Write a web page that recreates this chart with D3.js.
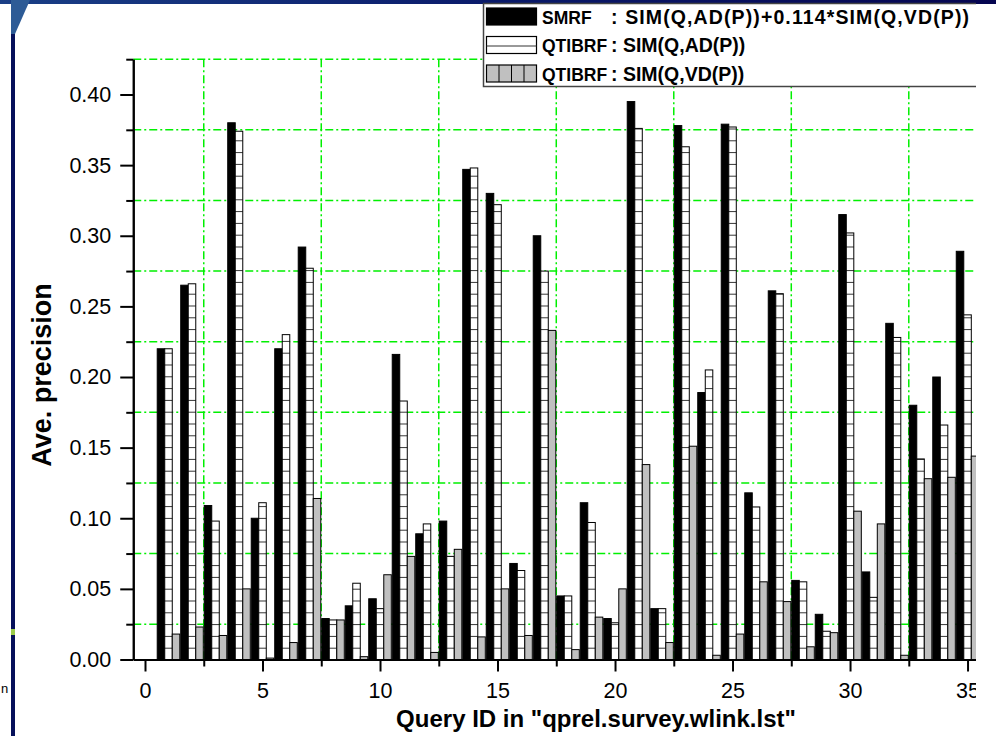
<!DOCTYPE html>
<html>
<head>
<meta charset="utf-8">
<script src="https://cdn.jsdelivr.net/npm/d3@7"></script>
<style>
  html, body { margin: 0; padding: 0; background: #fff; }
  svg { display: block; font-family: "Liberation Sans", Arial, Helvetica, sans-serif; }
</style>
</head>
<body>
<div id="chart"></div>
<script>
// Query IDs
var queries = [1, 2, 3, 4, 5, 6, 7, 8, 9, 10, 11, 12, 13, 14, 15, 16, 17, 18,
  19, 20, 21, 22, 23, 24, 25, 26, 27, 28, 29, 30, 31, 32, 33, 34, 35];

// SMRF : SIM(Q,AD(P))+0.114*SIM(Q,VD(P))
var smrf = [0.220, 0.265, 0.109, 0.380, 0.100, 0.220, 0.292, 0.029, 0.038, 0.043,
  0.216, 0.089, 0.098, 0.347, 0.330, 0.068, 0.300, 0.045, 0.111, 0.029,
  0.395, 0.036, 0.378, 0.189, 0.379, 0.118, 0.261, 0.056, 0.032, 0.315,
  0.062, 0.238, 0.180, 0.200, 0.289];
// QTIBRF : SIM(Q,AD(P))
var adp = [0.220, 0.266, 0.098, 0.374, 0.111, 0.230, 0.277, 0.028, 0.054, 0.036,
  0.183, 0.096, 0.073, 0.348, 0.322, 0.063, 0.275, 0.045, 0.097, 0.026,
  0.376, 0.036, 0.363, 0.205, 0.377, 0.108, 0.259, 0.055, 0.020, 0.302,
  0.044, 0.228, 0.142, 0.166, 0.244];
// QTIBRF : SIM(Q,VD(P))
var vdp = [0.018, 0.023, 0.017, 0.050, 0.001, 0.012, 0.114, 0.028, 0.002, 0.060,
  0.073, 0.005, 0.078, 0.016, 0.050, 0.017, 0.233, 0.007, 0.030, 0.050,
  0.138, 0.012, 0.151, 0.003, 0.018, 0.055, 0.041, 0.009, 0.019, 0.105,
  0.096, 0.003, 0.128, 0.129, 0.144];

var xTicks = [0, 5, 10, 15, 20, 25, 30, 35];
var xMinor = [2.5, 7.5, 12.5, 17.5, 22.5, 27.5, 32.5];
var yTicks = [0.00, 0.05, 0.10, 0.15, 0.20, 0.25, 0.30, 0.35, 0.40];
var yMinor = [0.025, 0.075, 0.125, 0.175, 0.225, 0.275, 0.325, 0.375, 0.425];

var series = [
  { name: "SMRF", rest: ": SIM(Q,AD(P))+0.114*SIM(Q,VD(P))", values: smrf, fill: "#000", offset: -1 },
  { name: "QTIBRF", rest: ": SIM(Q,AD(P))", values: adp, fill: "url(#hatchH)", offset: 0 },
  { name: "QTIBRF", rest: ": SIM(Q,VD(P))", values: vdp, fill: "#c0c0c0", offset: 1 }
];

var W = 996, H = 736;
var clipRight = 976;

var svg = d3.select("#chart").append("svg")
  .attr("width", W)
  .attr("height", H);

var defs = svg.append("defs");
// horizontal line hatch for the middle series
var ph = defs.append("pattern")
  .attr("id", "hatchH")
  .attr("patternUnits", "userSpaceOnUse")
  .attr("width", 10).attr("height", 11.8)
  .attr("y", 659.5);
ph.append("rect").attr("width", 10).attr("height", 11.8).attr("fill", "#fff");
ph.append("line").attr("x1", 0).attr("x2", 10).attr("y1", 0.5).attr("y2", 0.5)
  .attr("stroke", "#333").attr("stroke-width", 1);

var lg = defs.append("linearGradient").attr("id", "band");
lg.append("stop").attr("offset", "0%").attr("stop-color", "#1a3f86");
lg.append("stop").attr("offset", "50%").attr("stop-color", "#0a1a6a");
lg.append("stop").attr("offset", "100%").attr("stop-color", "#050550");

defs.append("clipPath").attr("id", "plotClip")
  .append("rect").attr("x", 0).attr("y", 0).attr("width", clipRight).attr("height", H);

// slide background bits
svg.append("rect").attr("x", 0).attr("y", 0).attr("width", W).attr("height", 4).attr("fill", "url(#band)");
svg.append("rect").attr("x", 11).attr("y", 0).attr("width", 4).attr("height", H).attr("fill", "#06105a");
svg.append("path").attr("d", "M11,0 L30,0 L15,34 L11,34 Z").attr("fill", "#2d5b96");
svg.append("rect").attr("x", 11).attr("y", 629).attr("width", 4).attr("height", 6).attr("fill", "#9ccc4a");
svg.append("text").attr("x", 1).attr("y", 693).attr("font-size", 13).attr("fill", "#000").text("n");

// scales
var x = d3.scaleLinear().domain([-0.5, 35.36]).range([133.25, clipRight]);
var y = d3.scaleLinear().domain([0, 0.425]).range([659.5, 59.2]);
var bw = 0.32;

var g = svg.append("g").attr("clip-path", "url(#plotClip)");

// grid (dash-dot green)
g.selectAll(".hgrid").data(yMinor).enter().append("line")
  .attr("x1", x(-0.5)).attr("x2", clipRight)
  .attr("y1", function(d) { return y(d); }).attr("y2", function(d) { return y(d); })
  .attr("stroke", "#00f000").attr("stroke-width", 1.5)
  .attr("stroke-dasharray", "8,3,2,3");
g.selectAll(".vgrid").data(xMinor).enter().append("line")
  .attr("x1", function(d) { return x(d); }).attr("x2", function(d) { return x(d); })
  .attr("y1", y(0.425)).attr("y2", y(0))
  .attr("stroke", "#00f000").attr("stroke-width", 1.5)
  .attr("stroke-dasharray", "8,3,2,3");

// bars
series.forEach(function(s) {
  g.selectAll(null).data(s.values).enter().append("rect")
    .attr("x", function(d, i) { return x(queries[i] + s.offset * bw - bw / 2); })
    .attr("width", x(bw) - x(0))
    .attr("y", function(d) { return y(d); })
    .attr("height", function(d) { return y(0) - y(d); })
    .attr("fill", s.fill)
    .attr("stroke", "#000")
    .attr("stroke-width", 1);
});

// axes
g.append("g").attr("transform", "translate(" + x(-0.5) + ",0)")
  .call(d3.axisLeft(y).tickValues(yTicks).tickSize(13).tickSizeOuter(0)
    .tickPadding(9).tickFormat(d3.format(".2f")));
g.append("g").attr("transform", "translate(" + x(-0.5) + ",0)")
  .call(d3.axisLeft(y).tickValues(yMinor).tickSize(7).tickSizeOuter(0).tickFormat(""));

g.append("g").attr("transform", "translate(0," + y(0) + ")")
  .call(d3.axisBottom(x).tickValues(xTicks).tickSize(12).tickSizeOuter(0).tickPadding(11));
g.append("g").attr("transform", "translate(0," + y(0) + ")")
  .call(d3.axisBottom(x).tickValues(xMinor).tickSize(7).tickSizeOuter(0).tickFormat(""));

g.selectAll(".domain").attr("stroke", "#000").attr("stroke-width", 2);
g.selectAll(".tick line").attr("stroke", "#000").attr("stroke-width", 2);
g.selectAll(".tick text").attr("font-size", 21.5).attr("fill", "#000")
  .attr("font-family", "'Liberation Sans', Arial, sans-serif");

// axis titles
svg.append("text")
  .attr("transform", "translate(51,375) rotate(-90)")
  .attr("text-anchor", "middle")
  .attr("font-size", 27).attr("font-weight", "bold")
  .text("Ave. precision");
svg.append("text")
  .attr("x", 596).attr("y", 727)
  .attr("text-anchor", "middle")
  .attr("font-size", 24).attr("font-weight", "bold")
  .text("Query ID in \"qprel.survey.wlink.lst\"");

// legend
var leg = g.append("g");
leg.append("rect").attr("x", 483.5).attr("y", 3.5).attr("width", 500).attr("height", 83)
  .attr("fill", "#fff").attr("stroke", "#444").attr("stroke-width", 1.5);
series.forEach(function(s, i) {
  var cy = 16.5 + i * 28.5;
  var sym = leg.append("g");
  sym.append("rect").attr("x", 486.5).attr("y", cy - 8.5).attr("width", 50).attr("height", 17)
    .attr("fill", i === 1 ? "#fff" : s.fill).attr("stroke", "#000").attr("stroke-width", 1.2);
  if (i === 1) {
    sym.append("line").attr("x1", 486.5).attr("x2", 536.5).attr("y1", cy + 1).attr("y2", cy + 1)
      .attr("stroke", "#333").attr("stroke-width", 1);
  }
  if (i === 2) {
    [1, 2, 3].forEach(function(k) {
      sym.append("line").attr("x1", 486.5 + k * 12.5).attr("x2", 486.5 + k * 12.5)
        .attr("y1", cy - 8.5).attr("y2", cy + 8.5)
        .attr("stroke", "#000").attr("stroke-width", 1);
    });
  }
  leg.append("text").attr("x", 542).attr("y", cy + 7)
    .attr("font-size", 17.5).attr("font-weight", "bold").text(s.name);
  var t = leg.append("text").attr("x", 611).attr("y", cy + 7)
    .attr("font-size", 19.5).attr("font-weight", "bold").text(s.rest);
  if (i === 0) t.attr("textLength", 358).attr("lengthAdjust", "spacing");
});
</script>
</body>
</html>
